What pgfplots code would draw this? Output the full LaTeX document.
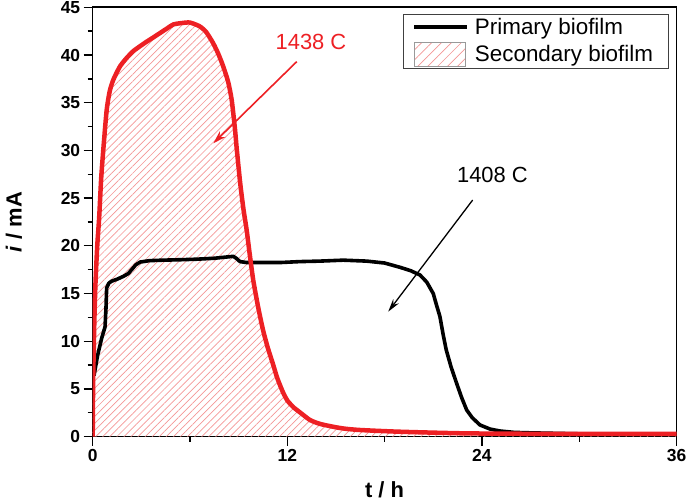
\documentclass[border=0pt]{standalone}
\usepackage{fontspec}
\setmainfont{Liberation Sans}
\usepackage{pgfplots}
\usepackage{pgfplotstable}
\pgfplotsset{compat=1.18}
\usetikzlibrary{patterns.meta,arrows.meta}
\definecolor{myred}{RGB}{237,32,36}
\definecolor{hatch}{RGB}{244,150,150}

\pgfplotstableread{
x y
0.08 6.4
0.30 8.5
0.55 10.3
0.76 11.5
0.82 13.5
0.86 15.6
1.00 16.1
1.17 16.3
1.50 16.5
1.89 16.8
2.20 17.1
2.40 17.5
2.65 18.0
2.92 18.3
3.50 18.45
4.35 18.5
5.50 18.55
6.40 18.6
7.50 18.7
8.67 18.9
8.85 18.7
9.08 18.35
9.50 18.25
9.90 18.25
11.55 18.25
12.78 18.35
14.00 18.4
15.45 18.5
16.90 18.4
18.00 18.2
18.95 17.75
19.60 17.4
20.18 16.95
20.60 16.2
21.00 15.0
21.20 13.8
21.41 12.6
21.60 10.8
21.80 9.1
22.10 7.3
22.44 5.6
22.75 4.1
23.06 2.8
23.40 2.0
23.88 1.23
24.50 0.8
25.10 0.6
26.00 0.45
27.10 0.4
30.00 0.3
36.00 0.3
}\primary

\pgfplotstableread{
x y
0.00 0
0.03 6
0.10 12
0.17 16
0.28 20
0.40 23
0.52 27
0.65 30
0.86 34.2
1.05 36.2
1.27 37.4
1.68 38.8
2.10 39.7
2.50 40.4
2.90 40.9
3.33 41.4
3.70 41.8
4.15 42.3
4.60 42.8
4.97 43.2
5.50 43.35
6.00 43.4
6.60 43.0
7.00 42.4
7.44 41.2
7.75 40.1
8.05 38.8
8.35 37.2
8.57 35.3
8.77 32.3
8.88 30.2
9.10 26.5
9.30 23.8
9.49 21.7
9.70 18.9
9.90 16.4
10.20 13.6
10.50 11.2
10.80 9.3
11.10 7.7
11.35 6.3
11.55 5.4
11.75 4.6
12.00 3.8
12.37 3.1
12.78 2.55
13.40 1.75
14.00 1.35
14.80 1.05
15.50 0.85
16.50 0.7
18.95 0.52
23.00 0.35
28.00 0.3
36.00 0.3
}\secondary

\begin{document}
\begin{tikzpicture}[x=1bp,y=1bp]
\begin{axis}[
  scale only axis,
  width=583.8bp, height=429.4bp,
  xmin=0, xmax=36, ymin=0, ymax=45,
  xtick={0,12,24,36}, minor xtick={6,18,30},
  ytick={0,5,...,45}, minor ytick={2.5,7.5,...,42.5},
  tick pos=left, tick align=outside,
  major tick length=9bp, minor tick length=5bp,
  axis line style={line width=1.6bp},
  every tick/.style={line width=1.3bp, black},
  /pgf/number format/assume math mode=true,
  ticklabel style={font=\fontsize{17.5}{19}\selectfont\bfseries},
  xlabel={\textbf{t / h}},
  ylabel={\textbf{\textit{i} / mA}},
  xlabel shift=13bp,
  ylabel shift=32bp,
  label style={font=\fontsize{22}{24}\selectfont},
  legend cell align=left,
  legend style={at={(1,1)}, anchor=north east, xshift=-8bp, yshift=-7bp,
    draw=black!75, line width=0.8bp,
    font=\fontsize{22.5}{24}\selectfont,
    inner xsep=9bp, inner ysep=1.5bp, row sep=4bp,
    nodes={inner xsep=6bp}},
]
\addplot[draw=none, smooth, tension=0.4,
  pattern={Lines[angle=45,distance=5bp,line width=0.7bp]},
  pattern color=hatch, forget plot] table {\secondary} \closedcycle;
\addplot[black, line width=3.6bp, line join=round,
  legend image code/.code={\draw[black, line width=3.6bp] (0bp,0bp) -- (53bp,0bp);}]
  table {\primary};
\addlegendentry{Primary biofilm}
\addlegendimage{legend image code/.code={%
  \path[pattern={Lines[angle=45,distance=7bp,line width=0.7bp]}, pattern color=hatch, draw=black!40, line width=0.5bp]
  (0bp,-12bp) rectangle (51bp,12bp);}}
\addlegendentry{Secondary biofilm}
\addplot[myred, line width=4.5bp, line join=round, smooth, tension=0.4, forget plot] table {\secondary};
\node[text=myred, font=\fontsize{22}{24}\selectfont] at (axis cs:13.46,41.4) {1438 C};
\draw[myred, line width=1.6bp, -{Stealth[length=13bp,width=8bp]}]
  (axis cs:12.58,39.3) -- (axis cs:7.44,30.75);
\node[font=\fontsize{22}{24}\selectfont] at (axis cs:24.65,27.4) {1408 C};
\draw[black, line width=1.3bp, -{Stealth[length=13bp,width=7bp]}]
  (axis cs:23.43,24.8) -- (axis cs:18.22,13.1);
\end{axis}
\pgfresetboundingbox
\path[use as bounding box] (-92.7,-67.3) rectangle (593.3,436.7);
\end{tikzpicture}
\end{document}
